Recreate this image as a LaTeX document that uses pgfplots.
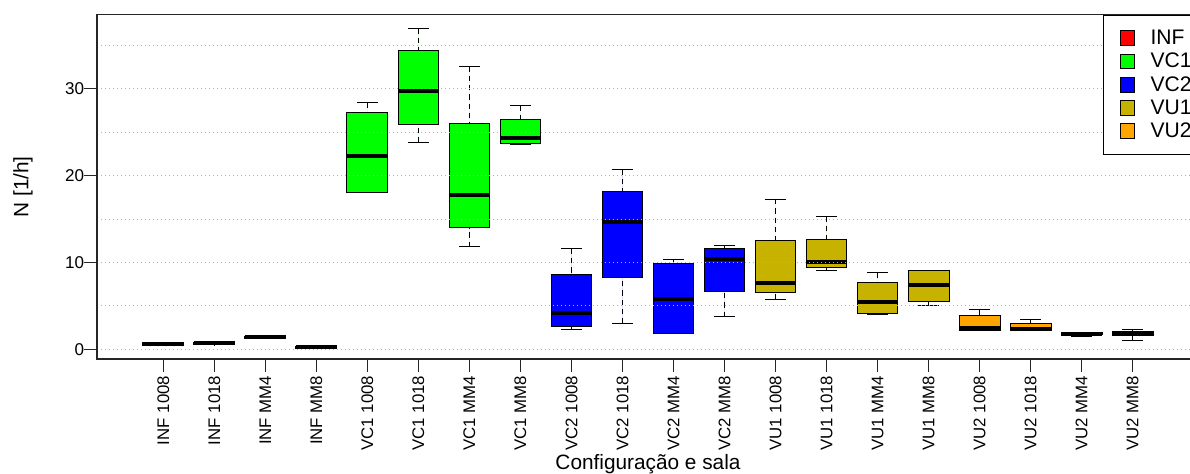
\documentclass[border=0pt]{standalone}
\usepackage{pgfplots}
\pgfplotsset{compat=1.18}
\usepgfplotslibrary{statistics}
\usepackage{fontspec}
\setmainfont{Liberation Sans}
\definecolor{cinf}{RGB}{255,0,0}
\definecolor{cvc1}{RGB}{0,255,0}
\definecolor{cvc2}{RGB}{0,0,255}
\definecolor{cvu1}{RGB}{200,178,0}
\definecolor{cvu2}{RGB}{255,165,0}
\begin{document}
\begin{tikzpicture}
\useasboundingbox (0pt,0pt) rectangle (892.5pt,355.5pt);
\clip (0pt,0pt) rectangle (892.5pt,355.5pt);
\begin{axis}[
  at={(72.75pt,86.25pt)}, anchor=south west,
  scale only axis, width=826.5pt, height=258.2pt,
  xmin=-0.3, xmax=21.3, ymin=-1.12, ymax=38.55,
  axis on top,
  axis line style={line width=1pt, black!85},
  xtick={1,...,20},
  xticklabels={INF 1008, INF 1018, INF MM4, INF MM8, VC1 1008, VC1 1018, VC1 MM4, VC1 MM8, VC2 1008, VC2 1018, VC2 MM4, VC2 MM8, VU1 1008, VU1 1018, VU1 MM4, VU1 MM8, VU2 1008, VU2 1018, VU2 MM4, VU2 MM8},
  xticklabel style={rotate=90, anchor=east, inner sep=0pt, font=\fontsize{12.6pt}{15pt}\selectfont},
  xticklabel shift=3pt,
  ytick={0,10,20,30},
  minor ytick={5,15,25,35},
  ymajorgrids, yminorgrids,
  major grid style={dash pattern=on 0.75pt off 2.25pt, black!30, line width=0.75pt},
  minor grid style={dash pattern=on 0.75pt off 2.25pt, black!30, line width=0.75pt},
  tick align=outside,
  major tick length=9.5pt,
  minor tick length=0pt,
  tick pos=left,
  tick style={line width=0.75pt, black!85},
  yticklabel style={anchor=east, inner sep=0pt, font=\fontsize{12.8pt}{15pt}\selectfont},
  /pgf/number format/assume math mode=true,
  ylabel={N [1/h]}, xlabel={Configuração e sala},
  every axis y label/.style={at={(axis description cs:-0.0672,0.5)}, rotate=90, anchor=center, font=\fontsize{15.6pt}{18pt}\selectfont},
  every axis x label/.style={at={(axis description cs:0.5,0)}, anchor=base, yshift=-83.25pt, font=\fontsize{15.6pt}{18pt}\selectfont},
  boxplot/draw direction=y,
  boxplot/box extend=0.8,
  boxplot/whisker extend=0.4,
  boxplot/every median/.style={line width=3pt},
  boxplot/draw/lower whisker/.code={%
    \draw[dash pattern=on 4pt off 3pt]
      (boxplot cs:\pgfplotsboxplotvalue{lower whisker})
      -- (boxplot cs:\pgfplotsboxplotvalue{lower quartile});
    \draw[solid]
      (boxplot whisker cs:\pgfplotsboxplotvalue{lower whisker},0)
      -- (boxplot whisker cs:\pgfplotsboxplotvalue{lower whisker},1);
  },
  boxplot/draw/upper whisker/.code={%
    \draw[dash pattern=on 4pt off 3pt]
      (boxplot cs:\pgfplotsboxplotvalue{upper whisker})
      -- (boxplot cs:\pgfplotsboxplotvalue{upper quartile});
    \draw[solid]
      (boxplot whisker cs:\pgfplotsboxplotvalue{upper whisker},0)
      -- (boxplot whisker cs:\pgfplotsboxplotvalue{upper whisker},1);
  },
  legend cell align=left,
  legend style={at={(1,1)}, anchor=north east, draw=black, line width=0.75pt, fill=white,
    font=\fontsize{15.8pt}{18pt}\selectfont, inner xsep=5.25pt, inner ysep=11pt,
    row sep=5pt, column sep=11.5pt, nodes={inner sep=0pt}},
  legend image code/.code={%
    \path[draw=none, fill=none] (0pt,-5.5pt) rectangle (18.25pt,5.5pt);
    \draw[#1, line width=0.75pt] (7.25pt,-5.5pt) rectangle (18.25pt,5.5pt);},
]
\addlegendimage{draw=black, fill=cinf}\addlegendentry{INF}
\addlegendimage{draw=black, fill=cvc1}\addlegendentry{VC1}
\addlegendimage{draw=black, fill=cvc2}\addlegendentry{VC2}
\addlegendimage{draw=black, fill=cvu1}\addlegendentry{VU1}
\addlegendimage{draw=black, fill=cvu2}\addlegendentry{VU2}
\addplot[forget plot, draw=black, fill=cinf, line width=0.75pt, boxplot prepared={draw position=1, lower whisker=0.45, lower quartile=0.45, median=0.62, upper quartile=0.8, upper whisker=0.8}] coordinates {};
\addplot[forget plot, draw=black, fill=cinf, line width=0.75pt, boxplot prepared={draw position=2, lower whisker=0.5, lower quartile=0.55, median=0.7, upper quartile=0.8, upper whisker=0.8}] coordinates {};
\addplot[forget plot, draw=black, fill=cinf, line width=0.75pt, boxplot prepared={draw position=3, lower whisker=1.25, lower quartile=1.25, median=1.4, upper quartile=1.5, upper whisker=1.5}] coordinates {};
\addplot[forget plot, draw=black, fill=cinf, line width=0.75pt, boxplot prepared={draw position=4, lower whisker=0.1, lower quartile=0.1, median=0.25, upper quartile=0.35, upper whisker=0.35}] coordinates {};
\addplot[forget plot, draw=black, fill=cvc1, line width=0.75pt, boxplot prepared={draw position=5, lower whisker=18.1, lower quartile=18.1, median=22.3, upper quartile=27.3, upper whisker=28.4}] coordinates {};
\addplot[forget plot, draw=black, fill=cvc1, line width=0.75pt, boxplot prepared={draw position=6, lower whisker=23.85, lower quartile=25.9, median=29.8, upper quartile=34.4, upper whisker=37.0}] coordinates {};
\addplot[forget plot, draw=black, fill=cvc1, line width=0.75pt, boxplot prepared={draw position=7, lower whisker=11.8, lower quartile=14.0, median=17.8, upper quartile=26.0, upper whisker=32.6}] coordinates {};
\addplot[forget plot, draw=black, fill=cvc1, line width=0.75pt, boxplot prepared={draw position=8, lower whisker=23.6, lower quartile=23.7, median=24.4, upper quartile=26.5, upper whisker=28.1}] coordinates {};
\addplot[forget plot, draw=black, fill=cvc2, line width=0.75pt, boxplot prepared={draw position=9, lower whisker=2.3, lower quartile=2.6, median=4.18, upper quartile=8.56, upper whisker=11.6}] coordinates {};
\addplot[forget plot, draw=black, fill=cvc2, line width=0.75pt, boxplot prepared={draw position=10, lower whisker=2.95, lower quartile=8.25, median=14.7, upper quartile=18.2, upper whisker=20.7}] coordinates {};
\addplot[forget plot, draw=black, fill=cvc2, line width=0.75pt, boxplot prepared={draw position=11, lower whisker=1.84, lower quartile=1.84, median=5.76, upper quartile=9.94, upper whisker=10.3}] coordinates {};
\addplot[forget plot, draw=black, fill=cvc2, line width=0.75pt, boxplot prepared={draw position=12, lower whisker=3.72, lower quartile=6.64, median=10.4, upper quartile=11.56, upper whisker=11.94}] coordinates {};
\addplot[forget plot, draw=black, fill=cvu1, line width=0.75pt, boxplot prepared={draw position=13, lower whisker=5.72, lower quartile=6.49, median=7.64, upper quartile=12.48, upper whisker=17.3}] coordinates {};
\addplot[forget plot, draw=black, fill=cvu1, line width=0.75pt, boxplot prepared={draw position=14, lower whisker=9.02, lower quartile=9.45, median=10.0, upper quartile=12.63, upper whisker=15.28}] coordinates {};
\addplot[forget plot, draw=black, fill=cvu1, line width=0.75pt, boxplot prepared={draw position=15, lower whisker=4.03, lower quartile=4.15, median=5.41, upper quartile=7.75, upper whisker=8.83}] coordinates {};
\addplot[forget plot, draw=black, fill=cvu1, line width=0.75pt, boxplot prepared={draw position=16, lower whisker=5.1, lower quartile=5.56, median=7.44, upper quartile=9.02, upper whisker=9.02}] coordinates {};
\addplot[forget plot, draw=black, fill=cvu2, line width=0.75pt, boxplot prepared={draw position=17, lower whisker=2.14, lower quartile=2.14, median=2.45, upper quartile=3.87, upper whisker=4.6}] coordinates {};
\addplot[forget plot, draw=black, fill=cvu2, line width=0.75pt, boxplot prepared={draw position=18, lower whisker=2.12, lower quartile=2.12, median=2.35, upper quartile=2.95, upper whisker=3.38}] coordinates {};
\addplot[forget plot, draw=black, fill=cvu2, line width=0.75pt, boxplot prepared={draw position=19, lower whisker=1.45, lower quartile=1.65, median=1.8, upper quartile=1.95, upper whisker=1.95}] coordinates {};
\addplot[forget plot, draw=black, fill=cvu2, line width=0.75pt, boxplot prepared={draw position=20, lower whisker=1.04, lower quartile=1.6, median=1.85, upper quartile=2.1, upper whisker=2.3}] coordinates {};
\end{axis}
\end{tikzpicture}
\end{document}
